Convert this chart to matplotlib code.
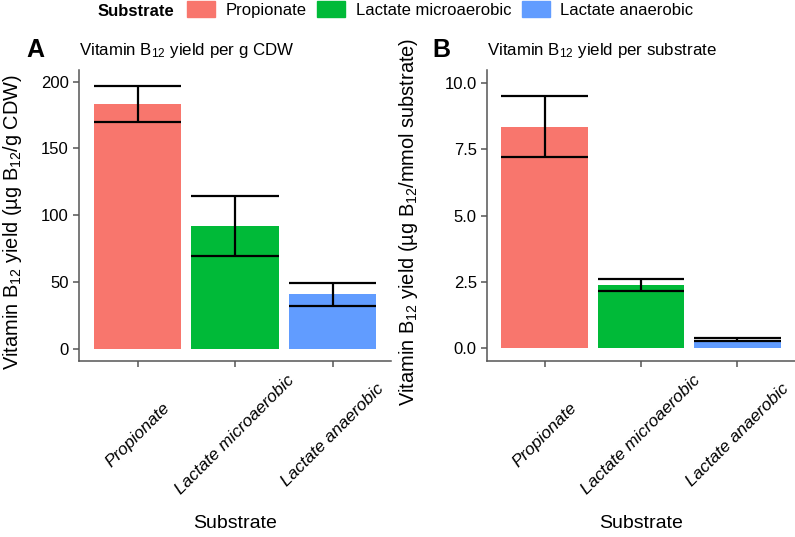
import matplotlib.pyplot as plt
import numpy as np
from matplotlib.patches import Patch

# data
substrates = ["Propionate", "Lactate microaerobic", "Lactate anaerobic"]
colors = ["#F8766D", "#00BA38", "#619CFF"]
yield_cdw = np.array([183.5, 92.0, 40.7])
yield_cdw_err = np.array([13.5, 22.5, 8.8])
yield_sub = np.array([8.35, 2.38, 0.33])
yield_sub_err = np.array([1.16, 0.22, 0.07])

plt.rcParams["font.family"] = ["Liberation Sans", "DejaVu Sans"]
plt.rcParams["mathtext.fontset"] = "custom"
plt.rcParams["mathtext.rm"] = "Liberation Sans"
plt.rcParams["mathtext.it"] = "Liberation Sans:italic"
plt.rcParams["mathtext.default"] = "regular"

W, H = 795, 537
fig = plt.figure(figsize=(W / 100, H / 100), dpi=100)


def add_axes_px(left, top, right, bottom):
    return fig.add_axes([left / W, 1 - bottom / H, (right - left) / W, (bottom - top) / H])


def draw_panel(ax, vals, errs, ylim, yticks, yticklabels, ylabel, title, ylabel_x):
    x = np.arange(1, len(substrates) + 1)
    ax.bar(x, vals, width=0.9, color=colors, zorder=1)
    ax.vlines(x, vals - errs, vals + errs, color="black", lw=1.6, zorder=3)
    ax.hlines(vals - errs, x - 0.45, x + 0.45, color="black", lw=1.6, zorder=3)
    ax.hlines(vals + errs, x - 0.45, x + 0.45, color="black", lw=1.6, zorder=3)

    ax.set_xlim(0.4, 3.6)
    ax.set_ylim(*ylim)
    ax.set_yticks(yticks)
    ax.set_yticklabels(yticklabels, fontsize=12)
    ax.set_xticks(x)
    ax.set_xticklabels(substrates, rotation=45, ha="center", va="center",
                       fontstyle="italic", fontsize=12.5)

    for side in ["top", "right"]:
        ax.spines[side].set_visible(False)
    for side in ["left", "bottom"]:
        ax.spines[side].set_color("#555555")
        ax.spines[side].set_linewidth(1.1)
    ax.tick_params(axis="both", length=4.3, width=1.1, color="#555555", labelcolor="black")
    ax.tick_params(axis="x", pad=49)
    ax.tick_params(axis="y", pad=3)

    ax.set_ylabel(ylabel, fontsize=14.4, va="center")
    ax.yaxis.set_label_coords(ylabel_x, (361 - 222) / 291)
    ax.set_xlabel("Substrate", fontsize=14, va="center")
    ax.xaxis.set_label_coords(0.5, (361 - 523) / 291)
    ax.set_title(title, loc="left", fontsize=12.2, pad=10.8)


axA = add_axes_px(79, 70, 391, 361)
axB = add_axes_px(487, 70, 795, 361)

draw_panel(axA, yield_cdw, yield_cdw_err, (-9.3, 208.8),
           [0, 50, 100, 150, 200], ["0", "50", "100", "150", "200"],
           "Vitamin B$_{12}$ yield (µg B$_{12}$/g CDW)",
           "Vitamin B$_{12}$ yield per g CDW", (12.5 - 79) / 312)
draw_panel(axB, yield_sub, yield_sub_err, (-0.475, 10.48),
           [0, 2.5, 5, 7.5, 10], ["0.0", "2.5", "5.0", "7.5", "10.0"],
           "Vitamin B$_{12}$ yield (µg B$_{12}$/mmol substrate)",
           "Vitamin B$_{12}$ yield per substrate", (408 - 487) / 308)

fig.text(26 / W, 1 - 57 / H, "A", fontsize=18, fontweight="bold", va="baseline", ha="left")
fig.text(432 / W, 1 - 57 / H, "B", fontsize=18, fontweight="bold", va="baseline", ha="left")

# legend on top
fig.text(98 / W, 1 - 11 / H, "Substrate", fontsize=12, fontweight="bold", va="center")
handles = [Patch(color=c) for c in colors]
fig.legend(handles, substrates, loc="center left", bbox_to_anchor=(187 / W, 1 - 9.5 / H),
           ncol=3, frameon=False, fontsize=12, handlelength=1.68, handleheight=1.08,
           handletextpad=0.66, columnspacing=0.6, borderpad=0, borderaxespad=0)

fig.savefig("out.png", dpi=100)
